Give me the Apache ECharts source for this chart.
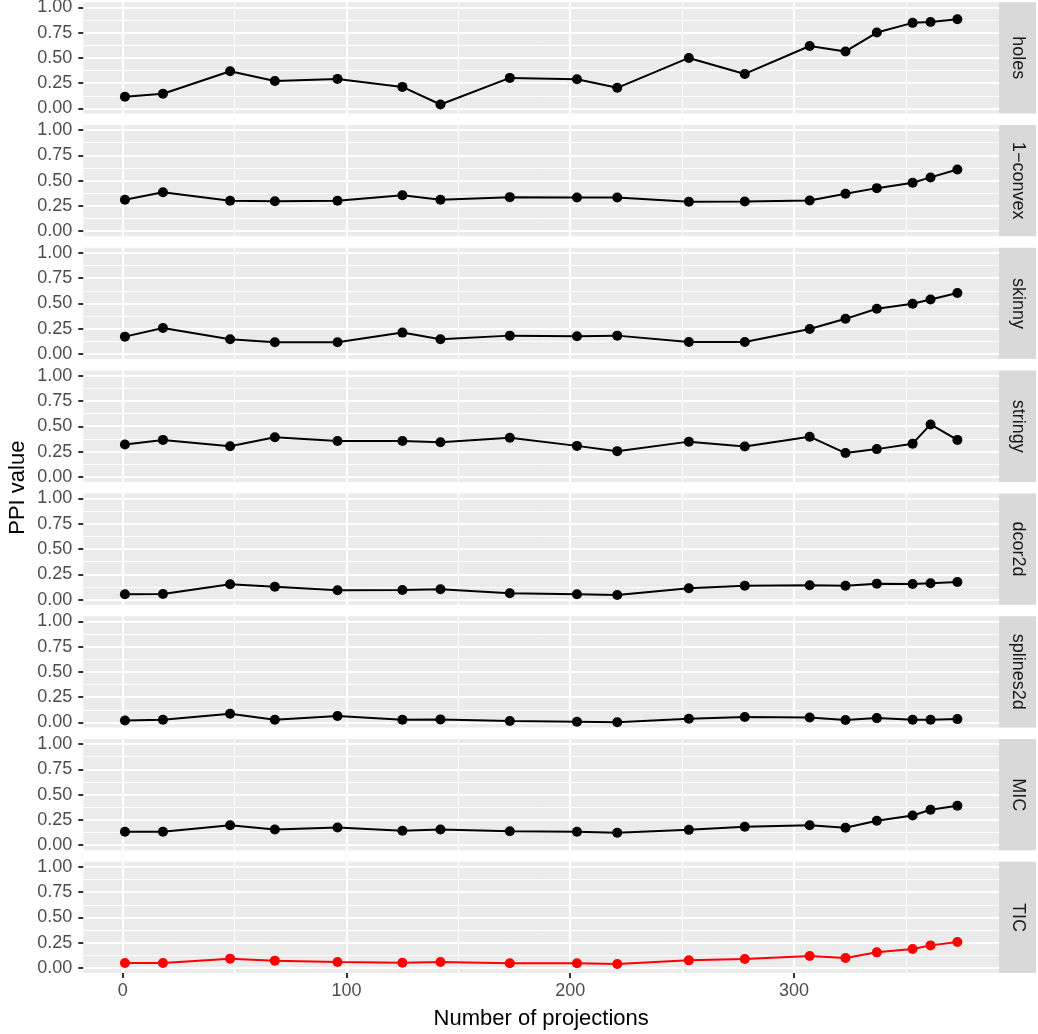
<!DOCTYPE html>
<html>
<head>
<meta charset="utf-8">
<script src="https://cdn.jsdelivr.net/npm/echarts@6/dist/echarts.min.js"></script>
<style>
  html, body { margin: 0; padding: 0; background: #fff; }
  #chart { width: 1038px; height: 1034px; }
</style>
</head>
<body>
<div id="chart"></div>
<script>
// number of projections (x)
var projections = [1, 18, 48, 68, 96, 125, 142, 173, 203, 221, 253, 278, 307, 323, 337, 353, 361, 373];

// facet names, top to bottom
var indexNames = ['holes', '1\u2212convex', 'skinny', 'stringy', 'dcor2d', 'splines2d', 'MIC', 'TIC'];

// PPI values per facet
var holes = [0.115, 0.145, 0.367, 0.272, 0.292, 0.213, 0.039, 0.302, 0.288, 0.204, 0.499, 0.341, 0.617, 0.563, 0.750, 0.846, 0.855, 0.882];
var convex = [0.311, 0.386, 0.301, 0.297, 0.301, 0.356, 0.311, 0.337, 0.334, 0.334, 0.291, 0.294, 0.304, 0.370, 0.426, 0.479, 0.532, 0.611];
var skinny = [0.172, 0.258, 0.146, 0.116, 0.116, 0.212, 0.146, 0.182, 0.176, 0.182, 0.119, 0.119, 0.248, 0.348, 0.447, 0.497, 0.539, 0.603];
var stringy = [0.319, 0.365, 0.303, 0.391, 0.355, 0.355, 0.342, 0.387, 0.306, 0.254, 0.348, 0.299, 0.397, 0.235, 0.274, 0.328, 0.518, 0.365];
var dcor2d = [0.053, 0.056, 0.152, 0.128, 0.093, 0.096, 0.103, 0.063, 0.053, 0.046, 0.112, 0.138, 0.142, 0.138, 0.158, 0.155, 0.162, 0.175];
var splines2d = [0.020, 0.026, 0.086, 0.026, 0.063, 0.026, 0.030, 0.014, 0.007, 0.002, 0.036, 0.053, 0.049, 0.024, 0.043, 0.026, 0.026, 0.033];
var mic = [0.133, 0.133, 0.198, 0.155, 0.175, 0.143, 0.155, 0.139, 0.133, 0.123, 0.152, 0.182, 0.198, 0.172, 0.242, 0.294, 0.350, 0.390];
var tic = [0.050, 0.050, 0.093, 0.073, 0.059, 0.053, 0.059, 0.047, 0.047, 0.040, 0.076, 0.089, 0.119, 0.099, 0.155, 0.188, 0.224, 0.257];

var panelValues = [holes, convex, skinny, stringy, dcor2d, splines2d, mic, tic];
var lineColors = ['#000000', '#000000', '#000000', '#000000', '#000000', '#000000', '#000000', '#FF0000'];

// x domain of a panel (ggplot 5% expansion of 1..373)
var X_MIN = -17.6, X_MAX = 391.6;
var X_TICK_MAX = 300;     // last labelled x tick
var X_STEP = 100;         // x tick step
var Y_EXPAND = 0.05;      // y expansion on each side of 0..1

var FONT = '"Liberation Sans", Helvetica, Arial, sans-serif';
var PANEL_LEFT = 83.3;
var PANEL_W = 915.7;
var PANEL_TOP = 2.2;
var PANEL_H = 111.3;
var PITCH = 122.8;
var STRIP_W = 37;

var xScale = PANEL_W / (X_MAX - X_MIN);
var yScale = PANEL_H / (1 + 2 * Y_EXPAND);
var x0 = PANEL_LEFT - X_MIN * xScale;

var grid = [], xAxis = [], yAxis = [], series = [], graphic = [];
var nPanels = indexNames.length;

function hiddenAxis(gridIndex, min, max) {
    return {
        type: 'value', gridIndex: gridIndex, min: min, max: max,
        axisLine: { show: false, onZero: false }, axisTick: { show: false },
        axisLabel: { show: false }, splitLine: { show: false }
    };
}

function makeGrid(left, gTop, width, height) {
    return { left: left, top: gTop, width: width, height: height, containLabel: false, outerBoundsMode: 'none' };
}

for (var i = 0; i < nPanels; i++) {
    var panelTop = PANEL_TOP + i * PITCH;
    var isLast = i === nPanels - 1;
    var g = grid.length;

    // panel background
    graphic.push({
        type: 'rect', z: -10,
        shape: { x: PANEL_LEFT, y: panelTop, width: PANEL_W, height: PANEL_H },
        style: { fill: '#EBEBEB' }
    });

    // data grid: full width, y 0..1 (horizontal grid lines + y labels)
    grid.push(makeGrid(PANEL_LEFT, panelTop + Y_EXPAND * yScale, PANEL_W, yScale));
    xAxis.push(hiddenAxis(g, X_MIN, X_MAX));
    yAxis.push({
        type: 'value', gridIndex: g, min: 0, max: 1, interval: 0.25, position: 'left',
        axisLine: { show: false, onZero: false },
        axisTick: { show: true, length: 5, lineStyle: { color: '#333333', width: 2 } },
        axisLabel: {
            margin: 11, fontSize: 18, color: '#4D4D4D', fontFamily: FONT,
            formatter: function (v) { return v.toFixed(2); }
        },
        splitLine: { show: true, lineStyle: { color: '#FFFFFF', width: 2 } },
        minorTick: { show: false, splitNumber: 2 },
        minorSplitLine: { show: true, lineStyle: { color: '#FFFFFF', width: 1 } }
    });

    var pts = [];
    for (var j = 0; j < projections.length; j++) {
        pts.push([projections[j], panelValues[i][j]]);
    }
    series.push({
        name: indexNames[i], type: 'line',
        xAxisIndex: g, yAxisIndex: g,
        data: pts, clip: false,
        symbol: 'circle', symbolSize: 10,
        lineStyle: { color: lineColors[i], width: 2 },
        itemStyle: { color: lineColors[i] },
        z: 5
    });

    // major vertical grid lines 0..300, full panel height
    var gMaj = grid.length;
    grid.push(makeGrid(x0, panelTop, X_TICK_MAX * xScale, PANEL_H));
    xAxis.push({
        type: 'value', gridIndex: gMaj, min: 0, max: X_TICK_MAX, interval: X_STEP, position: 'bottom',
        axisLine: { show: false, onZero: false },
        axisTick: { show: isLast, length: 5, lineStyle: { color: '#333333', width: 2 } },
        axisLabel: { show: isLast, margin: 9, fontSize: 18, color: '#4D4D4D', fontFamily: FONT },
        splitLine: { show: true, lineStyle: { color: '#FFFFFF', width: 2 } }
    });
    yAxis.push(hiddenAxis(gMaj, 0, 1));

    // minor vertical grid lines 50..350 (grid shifted by half a step)
    var gMin = grid.length;
    grid.push(makeGrid(x0 + (X_STEP / 2) * xScale, panelTop, X_TICK_MAX * xScale, PANEL_H));
    xAxis.push({
        type: 'value', gridIndex: gMin, min: 0, max: X_TICK_MAX, interval: X_STEP,
        axisLine: { show: false, onZero: false }, axisTick: { show: false }, axisLabel: { show: false },
        splitLine: { show: true, lineStyle: { color: '#FFFFFF', width: 1 } }
    });
    yAxis.push(hiddenAxis(gMin, 0, 1));

    // facet strip
    graphic.push({
        type: 'rect', z: 10,
        shape: { x: PANEL_LEFT + PANEL_W, y: panelTop, width: STRIP_W, height: PANEL_H },
        style: { fill: '#D9D9D9' }
    });
    graphic.push({
        type: 'text', z: 11,
        x: PANEL_LEFT + PANEL_W + STRIP_W / 2, y: panelTop + PANEL_H / 2,
        rotation: -Math.PI / 2,
        style: { text: indexNames[i], fill: '#1A1A1A', fontSize: 18, fontFamily: FONT, align: 'center', verticalAlign: 'middle' }
    });
}

// axis titles
graphic.push({
    type: 'text', z: 11,
    x: 18, y: PANEL_TOP + ((nPanels - 1) * PITCH + PANEL_H) / 2,
    rotation: Math.PI / 2,
    style: { text: 'PPI value', fill: '#000000', fontSize: 22, fontFamily: FONT, align: 'center', verticalAlign: 'middle' }
});
graphic.push({
    type: 'text', z: 11,
    x: PANEL_LEFT + PANEL_W / 2, y: 1019,
    style: { text: 'Number of projections', fill: '#000000', fontSize: 22, fontFamily: FONT, align: 'center', verticalAlign: 'middle' }
});

var option = {
    backgroundColor: '#FFFFFF',
    animation: false,
    grid: grid,
    xAxis: xAxis,
    yAxis: yAxis,
    series: series,
    graphic: graphic
};

var echart = echarts.init(document.getElementById('chart'));
echart.setOption(option);
</script>
</body>
</html>
